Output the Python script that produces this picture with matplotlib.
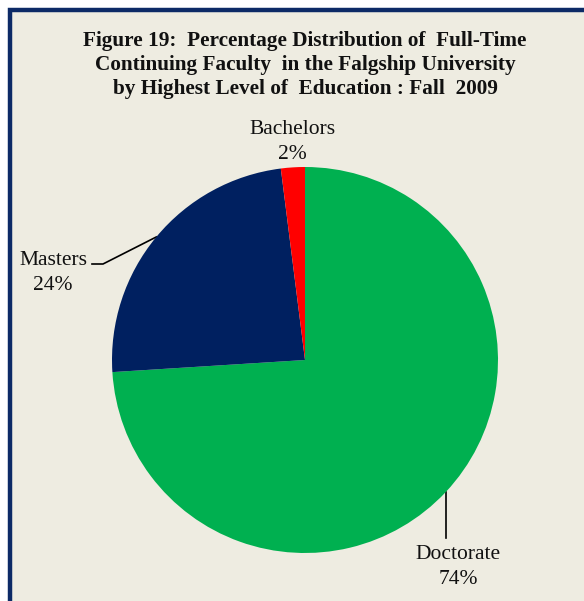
import matplotlib.pyplot as plt
from matplotlib.patches import Rectangle
import numpy as np

# data
labels = ["Doctorate", "Masters", "Bachelors"]
shares = [74, 24, 2]
colors = ["#00B050", "#002060", "#FF0000"]
title_lines = [
    "Figure 19:  Percentage Distribution of  Full-Time",
    "Continuing Faculty  in the Falgship University",
    "by Highest Level of  Education : Fall  2009",
]

W, H = 584, 601
plt.rcParams["font.family"] = ["Liberation Serif", "DejaVu Serif"]

fig = plt.figure(figsize=(W / 100, H / 100), dpi=100)
fig.patch.set_facecolor("white")


def fx(px):
    return px / W


def fy(py):
    return 1 - py / H


# chart area frame (right and bottom run off the crop)
fig.patches.append(Rectangle((fx(10), -0.05), 1.2, fy(10) + 0.05,
                             transform=fig.transFigure, facecolor="#EEECE1",
                             edgecolor="#0C2A66", linewidth=3.2, zorder=-5))

# title
for i, line in enumerate(title_lines):
    fig.text(fx(305), fy(46 + 24 * i), line, ha="center", va="baseline",
             fontsize=15.3, fontweight="bold", color="#111111")

# pie: centre (305, 360) px, radius 193 px
cx, cy, r = 305, 360, 193
ax = fig.add_axes([fx(cx - r), fy(cy + r), 2 * r / W, 2 * r / H])
ax.set_zorder(2)
ax.pie(shares, colors=colors, startangle=90, counterclock=False,
       wedgeprops=dict(linewidth=0))
ax.set_xlim(-1, 1)
ax.set_ylim(-1, 1)
ax.set_aspect("auto")
ax.axis("off")

# wedge mid angles for leader lines
cum = np.cumsum(shares) - np.array(shares) / 2
mid = np.deg2rad(90 - cum / sum(shares) * 360)


def edge_px(k):
    return cx + r * np.cos(mid[k]), cy - r * np.sin(mid[k])


def label(name, val, x, y):
    fig.text(fx(x), fy(y), name, ha="center", va="baseline", fontsize=15.5, color="#111111")
    fig.text(fx(x), fy(y + 25), f"{val}%", ha="center", va="baseline", fontsize=15.5, color="#111111")


label(labels[0], shares[0], 458, 559)
label(labels[1], shares[1], 53, 265)
label(labels[2], shares[2], 292, 134)

# leader lines
ex, ey = edge_px(1)
fig.add_artist(plt.Line2D([fx(92), fx(103), fx(ex)], [fy(264), fy(264), fy(ey)],
                          transform=fig.transFigure, color="black", linewidth=1.2))
ex, ey = edge_px(0)
fig.add_artist(plt.Line2D([fx(ex), fx(ex)], [fy(ey), fy(538)],
                          transform=fig.transFigure, color="black", linewidth=1.2))

fig.savefig("out.png", dpi=100)
